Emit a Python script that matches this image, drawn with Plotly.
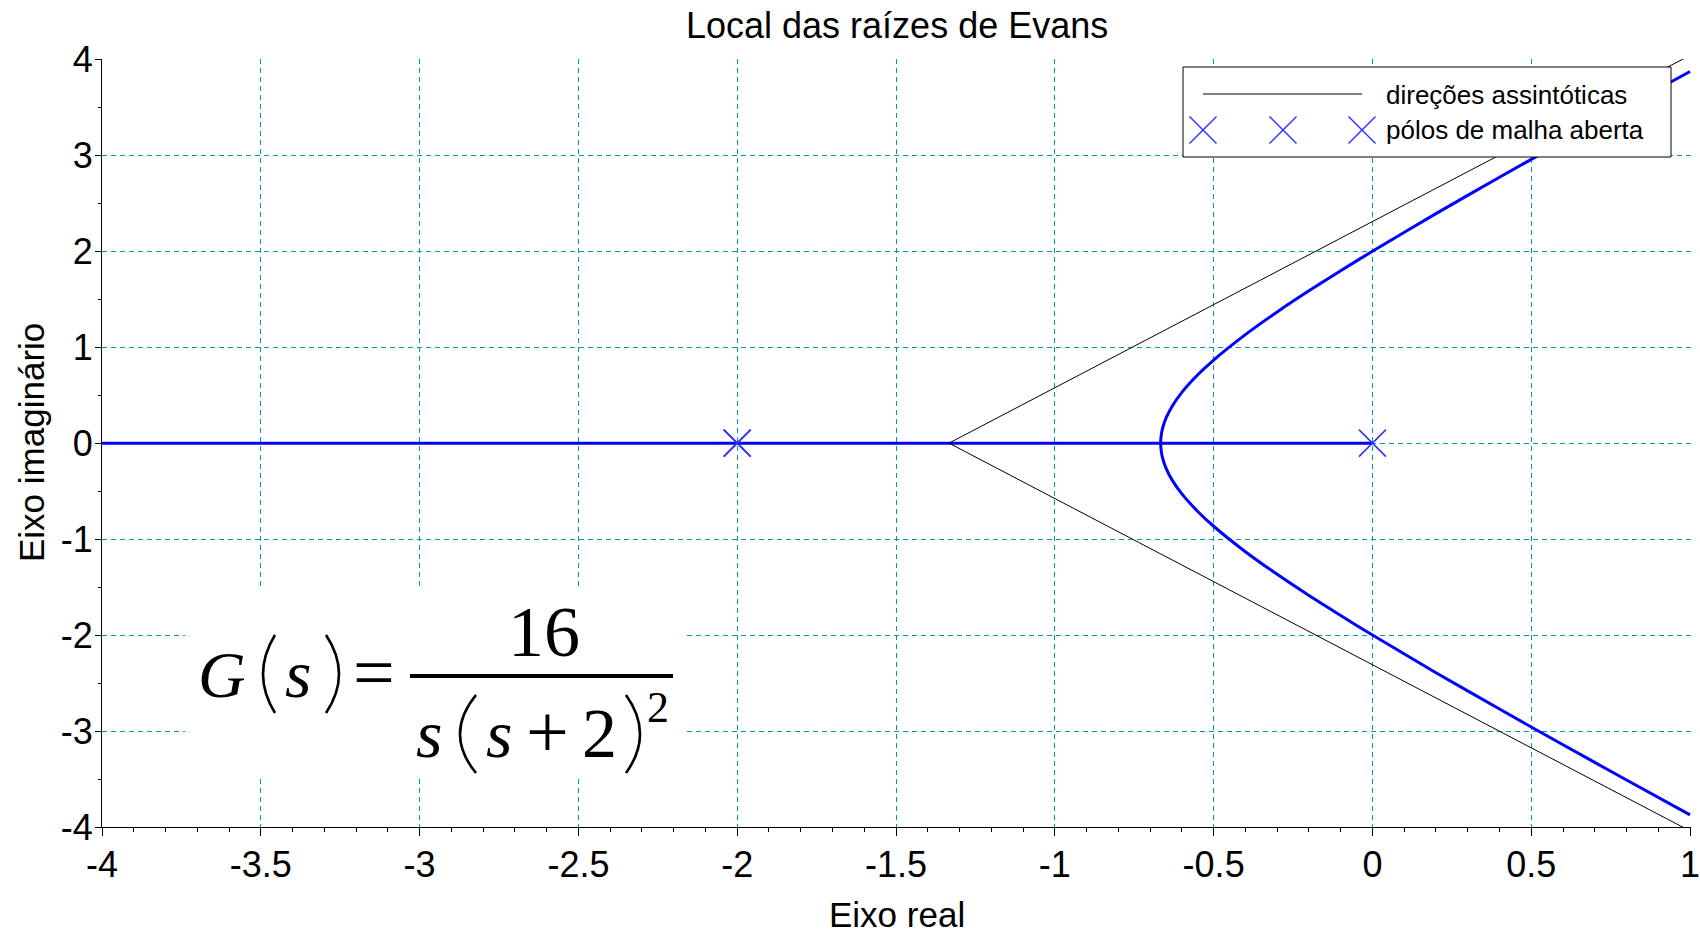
import plotly.graph_objects as go

# ---- data: root locus of G(s) = 16 / (s (s+2)^2) ----
# open-loop poles (s = 0 and a double pole at s = -2)
pole_re = [0.0, -2.0, -2.0]
pole_im = [0.0, 0.0, 0.0]

# branch lying on the real axis
real_branch_re = [-4.0, 0.0]
real_branch_im = [0.0, 0.0]

# complex-conjugate branches, through the breakaway point at -2/3
cplx_re = [1.0, 0.8, 0.6, 0.4, 0.2, 0.0, -0.1, -0.2, -0.3, -0.4, -0.5, -0.55,
           -0.6, -0.63, -0.65, -0.66, -0.665, -0.6667,
           -0.665, -0.66, -0.65, -0.63, -0.6, -0.55, -0.5, -0.4, -0.3, -0.2,
           -0.1, 0.0, 0.2, 0.4, 0.6, 0.8, 1.0]
cplx_im = [-3.873, -3.51, -3.143, -2.771, -2.392, -2.0, -1.797, -1.587, -1.367,
           -1.131, -0.866, -0.712, -0.529, -0.388, -0.26, -0.164, -0.082, 0.0,
           0.082, 0.164, 0.26, 0.388, 0.529, 0.712, 0.866, 1.131, 1.367, 1.587,
           1.797, 2.0, 2.392, 2.771, 3.143, 3.51, 3.873]

# asymptotic directions leaving the centroid -4/3 at +-60 degrees
asym_re = [1.0, -1.3333, 1.0]
asym_im = [-4.041, 0.0, 4.041]

# axis ticks
x_tick_vals = [-4, -3.5, -3, -2.5, -2, -1.5, -1, -0.5, 0, 0.5, 1]
x_tick_text = ["-4", "-3.5", "-3", "-2.5", "-2", "-1.5", "-1", "-0.5", "0", "0.5", "1"]
y_tick_vals = [-4, -3, -2, -1, 0, 1, 2, 3, 4]
y_tick_text = ["-4", "-3", "-2", "-1", "0", "1", "2", "3", "4"]

title_text = "Local das raízes de Evans"
x_title = "Eixo real"
y_title = "Eixo imaginário"
legend_labels = ["direções assintóticas", "pólos de malha aberta"]

# ---- layout geometry (pixels) ----
W, H = 1700, 934
ML, MR, MT, MB = 102, 9, 59, 107
PW, PH = W - ML - MR, H - MT - MB

def px(xp):
    return (xp - ML) / PW

def py(yp):
    return (H - MB - yp) / PH

SANS = "Liberation Sans, Arial, sans-serif"
SERIF = "Liberation Serif, Times New Roman, serif"
LOCUS_BLUE = "#0000ff"
POLE_BLUE = "#3030ff"
GRID = "#009b9b"

fig = go.Figure()

fig.add_trace(go.Scatter(x=real_branch_re, y=real_branch_im, mode="lines",
                         line=dict(color=LOCUS_BLUE, width=3), showlegend=False,
                         hoverinfo="skip"))
fig.add_trace(go.Scatter(x=cplx_re, y=cplx_im, mode="lines",
                         line=dict(color=LOCUS_BLUE, width=3, shape="spline", smoothing=0.6),
                         showlegend=False, hoverinfo="skip"))
fig.add_trace(go.Scatter(x=asym_re, y=asym_im, mode="lines",
                         line=dict(color="#000000", width=1), showlegend=False,
                         hoverinfo="skip"))
fig.add_trace(go.Scatter(x=pole_re, y=pole_im, mode="markers",
                         marker=dict(symbol="x-thin", size=27,
                                     line=dict(color=POLE_BLUE, width=1.5)),
                         showlegend=False, hoverinfo="skip"))

shapes = []
annotations = []

# white panel holding the transfer function
shapes.append(dict(type="rect", xref="paper", yref="paper",
                   x0=px(185), x1=px(685), y0=py(778), y1=py(588),
                   fillcolor="white", line=dict(width=0), layer="above"))
# fraction bar
shapes.append(dict(type="line", xref="paper", yref="paper",
                   x0=px(410), x1=px(673), y0=py(676), y1=py(676),
                   line=dict(color="black", width=4), layer="above"))

def paren(x_end, x_mid, y_top, y_bot):
    # tall, thin bracket drawn as a quadratic curve
    xc = 2 * x_mid - x_end
    path = (f"M {px(x_end)},{py(y_top)} Q {px(xc)},{py((y_top + y_bot) / 2)} "
            f"{px(x_end)},{py(y_bot)}")
    shapes.append(dict(type="path", xref="paper", yref="paper", path=path,
                       line=dict(color="black", width=2.6), layer="above"))

def glyph(text, cx, baseline, size, italic=False):
    # centre of the text box sits ~0.34 em above the baseline
    t = f"<i>{text}</i>" if italic else text
    annotations.append(dict(text=t, xref="paper", yref="paper",
                            x=px(cx), y=py(baseline - 0.34 * size),
                            xanchor="center", yanchor="middle", showarrow=False,
                            font=dict(family=SERIF, size=size, color="black")))

# G(s) =
glyph("G", 222, 697, 66, italic=True)
paren(275, 263, 635, 713)
glyph("s", 298, 697, 68, italic=True)
paren(326, 339, 635, 713)
glyph("=", 374, 697, 74)
# numerator
glyph("16", 544, 656, 72)
# denominator
glyph("s", 429, 757, 68, italic=True)
paren(476, 460, 695, 773)
glyph("s", 499, 757, 68, italic=True)
glyph("+", 547, 757, 76)
glyph("2", 599, 757, 70)
paren(626, 640, 695, 773)
glyph("2", 658, 722, 44)

# custom legend box
shapes.append(dict(type="rect", xref="paper", yref="paper",
                   x0=px(1183), x1=px(1671), y0=py(157), y1=py(67),
                   fillcolor="white", line=dict(color="black", width=1), layer="above"))
shapes.append(dict(type="line", xref="paper", yref="paper",
                   x0=px(1203), x1=px(1362), y0=py(94), y1=py(94),
                   line=dict(color="black", width=1), layer="above"))
for cx in (1203, 1283, 1362):
    r = 13.5
    shapes.append(dict(type="line", xref="paper", yref="paper",
                       x0=px(cx - r), x1=px(cx + r), y0=py(130 - r), y1=py(130 + r),
                       line=dict(color=POLE_BLUE, width=1.5), layer="above"))
    shapes.append(dict(type="line", xref="paper", yref="paper",
                       x0=px(cx - r), x1=px(cx + r), y0=py(130 + r), y1=py(130 - r),
                       line=dict(color=POLE_BLUE, width=1.5), layer="above"))
for label, yc in zip(legend_labels, (95, 130)):
    annotations.append(dict(text=label, xref="paper", yref="paper",
                            x=px(1384), y=py(yc), xanchor="left", yanchor="middle",
                            showarrow=False, font=dict(family=SANS, size=26, color="black")))

# title and axis titles
annotations.append(dict(text=title_text, xref="paper", yref="paper",
                        x=0.5, y=py(25.5), xanchor="center", yanchor="middle",
                        showarrow=False, font=dict(family=SANS, size=36, color="black")))
annotations.append(dict(text=x_title, xref="paper", yref="paper",
                        x=0.5, y=py(914), xanchor="center", yanchor="middle",
                        showarrow=False, font=dict(family=SANS, size=35, color="black")))
annotations.append(dict(text=y_title, xref="paper", yref="paper",
                        x=px(31), y=0.5, xanchor="center", yanchor="middle",
                        textangle=-90, showarrow=False,
                        font=dict(family=SANS, size=35, color="black")))

axis_common = dict(showline=True, linecolor="black", linewidth=1,
                   ticks="outside", tickcolor="black", zeroline=False,
                   showgrid=True, gridcolor=GRID, gridwidth=1, griddash="5px,4px",
                   tickfont=dict(family=SANS, size=36, color="black"),
                   tickmode="array", mirror=False, fixedrange=True,
                   ticklabeloverflow="allow", automargin=False)

fig.update_layout(
    template="none",
    width=W, height=H,
    margin=dict(l=ML, r=MR, t=MT, b=MB, pad=0, autoexpand=False),
    paper_bgcolor="white", plot_bgcolor="white",
    showlegend=False,
    shapes=shapes, annotations=annotations,
    xaxis=dict(range=[-4, 1.003], tickvals=x_tick_vals, ticktext=x_tick_text,
               ticklen=8, ticklabelstandoff=-2,
               minor=dict(tickmode="linear", tick0=-4, dtick=0.1, ticklen=4,
                          ticks="outside", tickcolor="black", showgrid=False),
               **axis_common),
    yaxis=dict(range=[-4, 4.003], tickvals=y_tick_vals, ticktext=y_tick_text,
               ticklen=6, ticklabelstandoff=-5,
               minor=dict(tickmode="linear", tick0=-4, dtick=0.5, ticklen=3,
                          ticks="outside", tickcolor="black", showgrid=False),
               **axis_common),
)

fig.write_html("out.html")
